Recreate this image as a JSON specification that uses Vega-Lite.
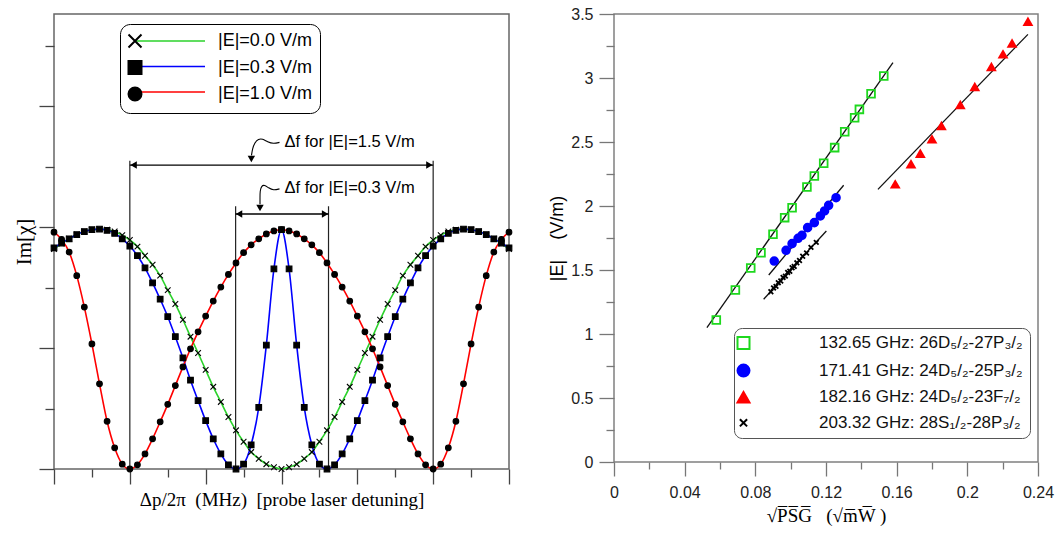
{
"$schema": "https://vega.github.io/schema/vega-lite/v6.json",
"background": "white",
"padding": {"left": 12, "top": 5, "right": 2, "bottom": 2},
"bounds": "flush",
"spacing": 105,
"resolve": {"scale": {"shape": "independent", "fill": "independent", "stroke": "independent"}, "legend": {"shape": "independent", "fill": "independent", "stroke": "independent"}},
"config": {
  "view": {"stroke": "#707070", "strokeWidth": 1.4},
  "font": "Liberation Sans",
  "axis": {"grid": false, "domain": false, "titleFontWeight": "normal", "titleColor": "#000", "labelColor": "#222", "tickColor": "#555", "tickWidth": 1.3}
},
"datasets": {
  "curves": [
    {"dp":-6,"im":3.64,"E":"|E|=0.0 V/m"},{"dp":-5.8,"im":3.73,"E":"|E|=0.0 V/m"},{"dp":-5.6,"im":3.81,"E":"|E|=0.0 V/m"},{"dp":-5.4,"im":3.88,"E":"|E|=0.0 V/m"},{"dp":-5.2,"im":3.93,"E":"|E|=0.0 V/m"},{"dp":-5,"im":3.96,"E":"|E|=0.0 V/m"},{"dp":-4.8,"im":3.97,"E":"|E|=0.0 V/m"},{"dp":-4.6,"im":3.96,"E":"|E|=0.0 V/m"},{"dp":-4.4,"im":3.93,"E":"|E|=0.0 V/m"},{"dp":-4.2,"im":3.87,"E":"|E|=0.0 V/m"},{"dp":-4,"im":3.79,"E":"|E|=0.0 V/m"},{"dp":-3.8,"im":3.68,"E":"|E|=0.0 V/m"},{"dp":-3.6,"im":3.53,"E":"|E|=0.0 V/m"},{"dp":-3.4,"im":3.38,"E":"|E|=0.0 V/m"},{"dp":-3.2,"im":3.2,"E":"|E|=0.0 V/m"},{"dp":-3,"im":2.96,"E":"|E|=0.0 V/m"},{"dp":-2.8,"im":2.73,"E":"|E|=0.0 V/m"},{"dp":-2.6,"im":2.47,"E":"|E|=0.0 V/m"},{"dp":-2.4,"im":2.19,"E":"|E|=0.0 V/m"},{"dp":-2.2,"im":1.92,"E":"|E|=0.0 V/m"},{"dp":-2,"im":1.64,"E":"|E|=0.0 V/m"},{"dp":-1.8,"im":1.36,"E":"|E|=0.0 V/m"},{"dp":-1.6,"im":1.11,"E":"|E|=0.0 V/m"},{"dp":-1.4,"im":0.86,"E":"|E|=0.0 V/m"},{"dp":-1.2,"im":0.64,"E":"|E|=0.0 V/m"},{"dp":-1,"im":0.45,"E":"|E|=0.0 V/m"},{"dp":-0.8,"im":0.28,"E":"|E|=0.0 V/m"},{"dp":-0.6,"im":0.17,"E":"|E|=0.0 V/m"},{"dp":-0.4,"im":0.08,"E":"|E|=0.0 V/m"},{"dp":-0.2,"im":0.03,"E":"|E|=0.0 V/m"},{"dp":0,"im":0,"E":"|E|=0.0 V/m"},{"dp":0.2,"im":0.03,"E":"|E|=0.0 V/m"},{"dp":0.4,"im":0.08,"E":"|E|=0.0 V/m"},{"dp":0.6,"im":0.17,"E":"|E|=0.0 V/m"},{"dp":0.8,"im":0.28,"E":"|E|=0.0 V/m"},{"dp":1,"im":0.45,"E":"|E|=0.0 V/m"},{"dp":1.2,"im":0.64,"E":"|E|=0.0 V/m"},{"dp":1.4,"im":0.86,"E":"|E|=0.0 V/m"},{"dp":1.6,"im":1.11,"E":"|E|=0.0 V/m"},{"dp":1.8,"im":1.36,"E":"|E|=0.0 V/m"},{"dp":2,"im":1.64,"E":"|E|=0.0 V/m"},{"dp":2.2,"im":1.92,"E":"|E|=0.0 V/m"},{"dp":2.4,"im":2.19,"E":"|E|=0.0 V/m"},{"dp":2.6,"im":2.47,"E":"|E|=0.0 V/m"},{"dp":2.8,"im":2.73,"E":"|E|=0.0 V/m"},{"dp":3,"im":2.96,"E":"|E|=0.0 V/m"},{"dp":3.2,"im":3.2,"E":"|E|=0.0 V/m"},{"dp":3.4,"im":3.38,"E":"|E|=0.0 V/m"},{"dp":3.6,"im":3.53,"E":"|E|=0.0 V/m"},{"dp":3.8,"im":3.68,"E":"|E|=0.0 V/m"},{"dp":4,"im":3.79,"E":"|E|=0.0 V/m"},{"dp":4.2,"im":3.87,"E":"|E|=0.0 V/m"},{"dp":4.4,"im":3.93,"E":"|E|=0.0 V/m"},{"dp":4.6,"im":3.96,"E":"|E|=0.0 V/m"},{"dp":4.8,"im":3.97,"E":"|E|=0.0 V/m"},{"dp":5,"im":3.96,"E":"|E|=0.0 V/m"},{"dp":5.2,"im":3.93,"E":"|E|=0.0 V/m"},{"dp":5.4,"im":3.88,"E":"|E|=0.0 V/m"},{"dp":5.6,"im":3.81,"E":"|E|=0.0 V/m"},{"dp":5.8,"im":3.73,"E":"|E|=0.0 V/m"},{"dp":6,"im":3.64,"E":"|E|=0.0 V/m"},
    {"dp":-6,"im":3.66,"E":"|E|=0.3 V/m"},{"dp":-5.8,"im":3.74,"E":"|E|=0.3 V/m"},{"dp":-5.6,"im":3.81,"E":"|E|=0.3 V/m"},{"dp":-5.4,"im":3.88,"E":"|E|=0.3 V/m"},{"dp":-5.2,"im":3.93,"E":"|E|=0.3 V/m"},{"dp":-5,"im":3.96,"E":"|E|=0.3 V/m"},{"dp":-4.8,"im":3.97,"E":"|E|=0.3 V/m"},{"dp":-4.6,"im":3.95,"E":"|E|=0.3 V/m"},{"dp":-4.4,"im":3.9,"E":"|E|=0.3 V/m"},{"dp":-4.2,"im":3.81,"E":"|E|=0.3 V/m"},{"dp":-4,"im":3.69,"E":"|E|=0.3 V/m"},{"dp":-3.8,"im":3.53,"E":"|E|=0.3 V/m"},{"dp":-3.6,"im":3.33,"E":"|E|=0.3 V/m"},{"dp":-3.4,"im":3.08,"E":"|E|=0.3 V/m"},{"dp":-3.2,"im":2.81,"E":"|E|=0.3 V/m"},{"dp":-3,"im":2.52,"E":"|E|=0.3 V/m"},{"dp":-2.8,"im":2.19,"E":"|E|=0.3 V/m"},{"dp":-2.6,"im":1.84,"E":"|E|=0.3 V/m"},{"dp":-2.4,"im":1.47,"E":"|E|=0.3 V/m"},{"dp":-2.2,"im":1.13,"E":"|E|=0.3 V/m"},{"dp":-2,"im":0.8,"E":"|E|=0.3 V/m"},{"dp":-1.8,"im":0.5,"E":"|E|=0.3 V/m"},{"dp":-1.6,"im":0.25,"E":"|E|=0.3 V/m"},{"dp":-1.4,"im":0.07,"E":"|E|=0.3 V/m"},{"dp":-1.2,"im":0,"E":"|E|=0.3 V/m"},{"dp":-1,"im":0.08,"E":"|E|=0.3 V/m"},{"dp":-0.8,"im":0.4,"E":"|E|=0.3 V/m"},{"dp":-0.6,"im":1.02,"E":"|E|=0.3 V/m"},{"dp":-0.4,"im":2.05,"E":"|E|=0.3 V/m"},{"dp":-0.2,"im":3.31,"E":"|E|=0.3 V/m"},{"dp":0,"im":3.96,"E":"|E|=0.3 V/m"},{"dp":0.2,"im":3.31,"E":"|E|=0.3 V/m"},{"dp":0.4,"im":2.05,"E":"|E|=0.3 V/m"},{"dp":0.6,"im":1.02,"E":"|E|=0.3 V/m"},{"dp":0.8,"im":0.4,"E":"|E|=0.3 V/m"},{"dp":1,"im":0.08,"E":"|E|=0.3 V/m"},{"dp":1.2,"im":0,"E":"|E|=0.3 V/m"},{"dp":1.4,"im":0.07,"E":"|E|=0.3 V/m"},{"dp":1.6,"im":0.25,"E":"|E|=0.3 V/m"},{"dp":1.8,"im":0.5,"E":"|E|=0.3 V/m"},{"dp":2,"im":0.8,"E":"|E|=0.3 V/m"},{"dp":2.2,"im":1.13,"E":"|E|=0.3 V/m"},{"dp":2.4,"im":1.47,"E":"|E|=0.3 V/m"},{"dp":2.6,"im":1.84,"E":"|E|=0.3 V/m"},{"dp":2.8,"im":2.19,"E":"|E|=0.3 V/m"},{"dp":3,"im":2.52,"E":"|E|=0.3 V/m"},{"dp":3.2,"im":2.81,"E":"|E|=0.3 V/m"},{"dp":3.4,"im":3.08,"E":"|E|=0.3 V/m"},{"dp":3.6,"im":3.33,"E":"|E|=0.3 V/m"},{"dp":3.8,"im":3.53,"E":"|E|=0.3 V/m"},{"dp":4,"im":3.69,"E":"|E|=0.3 V/m"},{"dp":4.2,"im":3.81,"E":"|E|=0.3 V/m"},{"dp":4.4,"im":3.9,"E":"|E|=0.3 V/m"},{"dp":4.6,"im":3.95,"E":"|E|=0.3 V/m"},{"dp":4.8,"im":3.97,"E":"|E|=0.3 V/m"},{"dp":5,"im":3.96,"E":"|E|=0.3 V/m"},{"dp":5.2,"im":3.93,"E":"|E|=0.3 V/m"},{"dp":5.4,"im":3.88,"E":"|E|=0.3 V/m"},{"dp":5.6,"im":3.81,"E":"|E|=0.3 V/m"},{"dp":5.8,"im":3.74,"E":"|E|=0.3 V/m"},{"dp":6,"im":3.66,"E":"|E|=0.3 V/m"},
    {"dp":-6,"im":3.92,"E":"|E|=1.0 V/m"},{"dp":-5.8,"im":3.8,"E":"|E|=1.0 V/m"},{"dp":-5.6,"im":3.59,"E":"|E|=1.0 V/m"},{"dp":-5.4,"im":3.2,"E":"|E|=1.0 V/m"},{"dp":-5.2,"im":2.68,"E":"|E|=1.0 V/m"},{"dp":-5,"im":2.07,"E":"|E|=1.0 V/m"},{"dp":-4.8,"im":1.41,"E":"|E|=1.0 V/m"},{"dp":-4.6,"im":0.79,"E":"|E|=1.0 V/m"},{"dp":-4.4,"im":0.35,"E":"|E|=1.0 V/m"},{"dp":-4.2,"im":0.08,"E":"|E|=1.0 V/m"},{"dp":-4,"im":0,"E":"|E|=1.0 V/m"},{"dp":-3.8,"im":0.07,"E":"|E|=1.0 V/m"},{"dp":-3.6,"im":0.25,"E":"|E|=1.0 V/m"},{"dp":-3.4,"im":0.5,"E":"|E|=1.0 V/m"},{"dp":-3.2,"im":0.78,"E":"|E|=1.0 V/m"},{"dp":-3,"im":1.07,"E":"|E|=1.0 V/m"},{"dp":-2.8,"im":1.38,"E":"|E|=1.0 V/m"},{"dp":-2.6,"im":1.69,"E":"|E|=1.0 V/m"},{"dp":-2.4,"im":1.99,"E":"|E|=1.0 V/m"},{"dp":-2.2,"im":2.27,"E":"|E|=1.0 V/m"},{"dp":-2,"im":2.53,"E":"|E|=1.0 V/m"},{"dp":-1.8,"im":2.78,"E":"|E|=1.0 V/m"},{"dp":-1.6,"im":3.01,"E":"|E|=1.0 V/m"},{"dp":-1.4,"im":3.22,"E":"|E|=1.0 V/m"},{"dp":-1.2,"im":3.41,"E":"|E|=1.0 V/m"},{"dp":-1,"im":3.58,"E":"|E|=1.0 V/m"},{"dp":-0.8,"im":3.71,"E":"|E|=1.0 V/m"},{"dp":-0.6,"im":3.81,"E":"|E|=1.0 V/m"},{"dp":-0.4,"im":3.89,"E":"|E|=1.0 V/m"},{"dp":-0.2,"im":3.94,"E":"|E|=1.0 V/m"},{"dp":0,"im":3.96,"E":"|E|=1.0 V/m"},{"dp":0.2,"im":3.94,"E":"|E|=1.0 V/m"},{"dp":0.4,"im":3.89,"E":"|E|=1.0 V/m"},{"dp":0.6,"im":3.81,"E":"|E|=1.0 V/m"},{"dp":0.8,"im":3.71,"E":"|E|=1.0 V/m"},{"dp":1,"im":3.58,"E":"|E|=1.0 V/m"},{"dp":1.2,"im":3.41,"E":"|E|=1.0 V/m"},{"dp":1.4,"im":3.22,"E":"|E|=1.0 V/m"},{"dp":1.6,"im":3.01,"E":"|E|=1.0 V/m"},{"dp":1.8,"im":2.78,"E":"|E|=1.0 V/m"},{"dp":2,"im":2.53,"E":"|E|=1.0 V/m"},{"dp":2.2,"im":2.27,"E":"|E|=1.0 V/m"},{"dp":2.4,"im":1.99,"E":"|E|=1.0 V/m"},{"dp":2.6,"im":1.69,"E":"|E|=1.0 V/m"},{"dp":2.8,"im":1.38,"E":"|E|=1.0 V/m"},{"dp":3,"im":1.07,"E":"|E|=1.0 V/m"},{"dp":3.2,"im":0.78,"E":"|E|=1.0 V/m"},{"dp":3.4,"im":0.5,"E":"|E|=1.0 V/m"},{"dp":3.6,"im":0.25,"E":"|E|=1.0 V/m"},{"dp":3.8,"im":0.07,"E":"|E|=1.0 V/m"},{"dp":4,"im":0,"E":"|E|=1.0 V/m"},{"dp":4.2,"im":0.08,"E":"|E|=1.0 V/m"},{"dp":4.4,"im":0.35,"E":"|E|=1.0 V/m"},{"dp":4.6,"im":0.79,"E":"|E|=1.0 V/m"},{"dp":4.8,"im":1.41,"E":"|E|=1.0 V/m"},{"dp":5,"im":2.07,"E":"|E|=1.0 V/m"},{"dp":5.2,"im":2.68,"E":"|E|=1.0 V/m"},{"dp":5.4,"im":3.2,"E":"|E|=1.0 V/m"},{"dp":5.6,"im":3.59,"E":"|E|=1.0 V/m"},{"dp":5.8,"im":3.8,"E":"|E|=1.0 V/m"},{"dp":6,"im":3.92,"E":"|E|=1.0 V/m"}
  ],
  "vlines": [{"dp":-4,"im":0,"im2":5.1},{"dp":4,"im":0,"im2":5.1},{"dp":-1.21,"im":0,"im2":4.35},{"dp":1.24,"im":0,"im2":4.35}],
  "harrows": [{"dp":-4,"dp2":4,"im":5.03},{"dp":-1.21,"dp2":1.24,"im":4.22}],
  "heads": [{"dp":-3.9,"im":5.03,"dir":"left"},{"dp":-1.12,"im":4.22,"dir":"left"},{"dp":3.9,"im":5.03,"dir":"right"},{"dp":1.15,"im":4.22,"dir":"right"},{"dp":-0.795,"im":5.13,"dir":"down"},{"dp":-0.567,"im":4.32,"dir":"down"}],
  "wiggles": [
    {"dp":-0.053,"im":5.406,"k":0,"g":"a"},{"dp":-0.211,"im":5.381,"k":1,"g":"a"},{"dp":-0.369,"im":5.414,"k":2,"g":"a"},{"dp":-0.501,"im":5.464,"k":3,"g":"a"},{"dp":-0.607,"im":5.464,"k":4,"g":"a"},{"dp":-0.712,"im":5.397,"k":5,"g":"a"},{"dp":-0.765,"im":5.298,"k":6,"g":"a"},{"dp":-0.792,"im":5.19,"k":7,"g":"a"},
    {"dp":-0.053,"im":4.636,"k":0,"g":"b"},{"dp":-0.211,"im":4.611,"k":1,"g":"b"},{"dp":-0.343,"im":4.652,"k":2,"g":"b"},{"dp":-0.449,"im":4.702,"k":3,"g":"b"},{"dp":-0.528,"im":4.685,"k":4,"g":"b"},{"dp":-0.567,"im":4.603,"k":5,"g":"b"},{"dp":-0.567,"im":4.487,"k":6,"g":"b"},{"dp":-0.567,"im":4.38,"k":7,"g":"b"}
  ],
  "notes": [{"dp":0.08,"im":5.41,"txt":"Δf for |E|=1.5 V/m"},{"dp":0.08,"im":4.65,"txt":"Δf for |E|=0.3 V/m"}],
  "efield": [
    {"sp":0.0579,"ef":1.109,"t":"132.65 GHz: 26D₅/₂-27P₃/₂"},{"sp":0.0687,"ef":1.344,"t":"132.65 GHz: 26D₅/₂-27P₃/₂"},{"sp":0.0774,"ef":1.515,"t":"132.65 GHz: 26D₅/₂-27P₃/₂"},{"sp":0.0832,"ef":1.635,"t":"132.65 GHz: 26D₅/₂-27P₃/₂"},{"sp":0.09,"ef":1.779,"t":"132.65 GHz: 26D₅/₂-27P₃/₂"},{"sp":0.0966,"ef":1.909,"t":"132.65 GHz: 26D₅/₂-27P₃/₂"},{"sp":0.1008,"ef":1.987,"t":"132.65 GHz: 26D₅/₂-27P₃/₂"},{"sp":0.1092,"ef":2.148,"t":"132.65 GHz: 26D₅/₂-27P₃/₂"},{"sp":0.1134,"ef":2.234,"t":"132.65 GHz: 26D₅/₂-27P₃/₂"},{"sp":0.1187,"ef":2.334,"t":"132.65 GHz: 26D₅/₂-27P₃/₂"},{"sp":0.1249,"ef":2.456,"t":"132.65 GHz: 26D₅/₂-27P₃/₂"},{"sp":0.1306,"ef":2.58,"t":"132.65 GHz: 26D₅/₂-27P₃/₂"},{"sp":0.1362,"ef":2.69,"t":"132.65 GHz: 26D₅/₂-27P₃/₂"},{"sp":0.1389,"ef":2.755,"t":"132.65 GHz: 26D₅/₂-27P₃/₂"},{"sp":0.1455,"ef":2.877,"t":"132.65 GHz: 26D₅/₂-27P₃/₂"},{"sp":0.1527,"ef":3.016,"t":"132.65 GHz: 26D₅/₂-27P₃/₂"},
    {"sp":0.0907,"ef":1.57,"t":"171.41 GHz: 24D₅/₂-25P₃/₂"},{"sp":0.0974,"ef":1.654,"t":"171.41 GHz: 24D₅/₂-25P₃/₂"},{"sp":0.1008,"ef":1.706,"t":"171.41 GHz: 24D₅/₂-25P₃/₂"},{"sp":0.1042,"ef":1.748,"t":"171.41 GHz: 24D₅/₂-25P₃/₂"},{"sp":0.1064,"ef":1.771,"t":"171.41 GHz: 24D₅/₂-25P₃/₂"},{"sp":0.1096,"ef":1.831,"t":"171.41 GHz: 24D₅/₂-25P₃/₂"},{"sp":0.1134,"ef":1.87,"t":"171.41 GHz: 24D₅/₂-25P₃/₂"},{"sp":0.1168,"ef":1.922,"t":"171.41 GHz: 24D₅/₂-25P₃/₂"},{"sp":0.1192,"ef":1.961,"t":"171.41 GHz: 24D₅/₂-25P₃/₂"},{"sp":0.1215,"ef":2.005,"t":"171.41 GHz: 24D₅/₂-25P₃/₂"},{"sp":0.1257,"ef":2.065,"t":"171.41 GHz: 24D₅/₂-25P₃/₂"},
    {"sp":0.1592,"ef":2.169,"t":"182.16 GHz: 24D₅/₂-23F₇/₂"},{"sp":0.1681,"ef":2.326,"t":"182.16 GHz: 24D₅/₂-23F₇/₂"},{"sp":0.1734,"ef":2.409,"t":"182.16 GHz: 24D₅/₂-23F₇/₂"},{"sp":0.18,"ef":2.521,"t":"182.16 GHz: 24D₅/₂-23F₇/₂"},{"sp":0.1853,"ef":2.625,"t":"182.16 GHz: 24D₅/₂-23F₇/₂"},{"sp":0.196,"ef":2.789,"t":"182.16 GHz: 24D₅/₂-23F₇/₂"},{"sp":0.2042,"ef":2.93,"t":"182.16 GHz: 24D₅/₂-23F₇/₂"},{"sp":0.2136,"ef":3.086,"t":"182.16 GHz: 24D₅/₂-23F₇/₂"},{"sp":0.2202,"ef":3.185,"t":"182.16 GHz: 24D₅/₂-23F₇/₂"},{"sp":0.2253,"ef":3.27,"t":"182.16 GHz: 24D₅/₂-23F₇/₂"},{"sp":0.2343,"ef":3.44,"t":"182.16 GHz: 24D₅/₂-23F₇/₂"},
    {"sp":0.0888,"ef":1.33,"t":"203.32 GHz: 28S₁/₂-28P₃/₂"},{"sp":0.0903,"ef":1.36,"t":"203.32 GHz: 28S₁/₂-28P₃/₂"},{"sp":0.0917,"ef":1.372,"t":"203.32 GHz: 28S₁/₂-28P₃/₂"},{"sp":0.093,"ef":1.401,"t":"203.32 GHz: 28S₁/₂-28P₃/₂"},{"sp":0.0944,"ef":1.414,"t":"203.32 GHz: 28S₁/₂-28P₃/₂"},{"sp":0.0957,"ef":1.442,"t":"203.32 GHz: 28S₁/₂-28P₃/₂"},{"sp":0.097,"ef":1.452,"t":"203.32 GHz: 28S₁/₂-28P₃/₂"},{"sp":0.0983,"ef":1.481,"t":"203.32 GHz: 28S₁/₂-28P₃/₂"},{"sp":0.0995,"ef":1.49,"t":"203.32 GHz: 28S₁/₂-28P₃/₂"},{"sp":0.1008,"ef":1.518,"t":"203.32 GHz: 28S₁/₂-28P₃/₂"},{"sp":0.102,"ef":1.528,"t":"203.32 GHz: 28S₁/₂-28P₃/₂"},{"sp":0.1035,"ef":1.556,"t":"203.32 GHz: 28S₁/₂-28P₃/₂"},{"sp":0.105,"ef":1.574,"t":"203.32 GHz: 28S₁/₂-28P₃/₂"},{"sp":0.1068,"ef":1.607,"t":"203.32 GHz: 28S₁/₂-28P₃/₂"},{"sp":0.109,"ef":1.633,"t":"203.32 GHz: 28S₁/₂-28P₃/₂"},{"sp":0.1115,"ef":1.677,"t":"203.32 GHz: 28S₁/₂-28P₃/₂"},{"sp":0.1145,"ef":1.716,"t":"203.32 GHz: 28S₁/₂-28P₃/₂"}
  ],
  "fits": [
    {"sp":0.0526,"ef":1.049,"t":"a"},{"sp":0.1579,"ef":3.12,"t":"a"},
    {"sp":0.0876,"ef":1.461,"t":"b"},{"sp":0.13,"ef":2.162,"t":"b"},
    {"sp":0.1494,"ef":2.13,"t":"c"},{"sp":0.2343,"ef":3.341,"t":"c"},
    {"sp":0.0847,"ef":1.271,"t":"d"},{"sp":0.1202,"ef":1.805,"t":"d"}
  ]
},
"hconcat": [
  {
    "width": 455,
    "height": 455,
    "view": {"stroke": "#666", "strokeWidth": 1.5},
    "encoding": {
      "x": {"field": "dp", "type": "quantitative", "scale": {"domain": [-6, 6], "nice": false, "zero": false},
        "axis": {"values": [-6,-5,-4,-3,-2,-1,0,1,2,3,4,5,6], "labels": false, "tickColor": "#444",
          "tickSize": {"condition": {"test": "datum.value % 2 === 0", "value": 15}, "value": 8},
          "title": "Δp/2π \u00a0(MHz) \u00a0[probe laser detuning]", "titleFont": "Liberation Serif", "titleFontSize": 19, "titlePadding": 6}},
      "y": {"field": "im", "type": "quantitative", "scale": {"domain": [0, 7.53], "nice": false},
        "axis": {"values": [0,1,2,3,4,5,6,7], "labels": false, "tickColor": "#444",
          "tickSize": {"condition": {"test": "datum.value % 2 === 0", "value": 15}, "value": 9},
          "title": "Im[χ]", "titleFont": "Liberation Serif", "titleFontSize": 21, "titlePadding": 4}}
    },
    "layer": [
      {"data": {"name": "vlines"}, "mark": {"type": "rule", "color": "#222", "strokeWidth": 1.2}, "encoding": {"y2": {"field": "im2"}}},
      {"data": {"name": "harrows"}, "mark": {"type": "rule", "color": "#000", "strokeWidth": 1.3}, "encoding": {"x2": {"field": "dp2"}}},
      {"data": {"name": "wiggles"}, "mark": {"type": "line", "interpolate": "basis", "color": "#000", "strokeWidth": 1.1}, "encoding": {"detail": {"field": "g"}, "order": {"field": "k", "type": "quantitative"}}},
      {"data": {"name": "heads"}, "transform": [{"filter": "datum.dir === 'left'"}], "mark": {"type": "point", "shape": "triangle-left", "filled": true, "color": "#000", "size": 55, "opacity": 1}},
      {"data": {"name": "heads"}, "transform": [{"filter": "datum.dir === 'right'"}], "mark": {"type": "point", "shape": "triangle-right", "filled": true, "color": "#000", "size": 55, "opacity": 1}},
      {"data": {"name": "heads"}, "transform": [{"filter": "datum.dir === 'down'"}], "mark": {"type": "point", "shape": "triangle-down", "filled": true, "color": "#000", "size": 55, "opacity": 1}},
      {"data": {"name": "notes"}, "mark": {"type": "text", "align": "left", "baseline": "middle", "font": "Liberation Sans", "fontSize": 16.5, "color": "#000"}, "encoding": {"text": {"field": "txt"}}},
      {"data": {"name": "curves"}, "mark": {"type": "line", "interpolate": "monotone", "strokeWidth": 1.6},
        "encoding": {"stroke": {"field": "E", "type": "nominal",
          "scale": {"domain": ["|E|=0.0 V/m", "|E|=0.3 V/m", "|E|=1.0 V/m"], "range": ["#2bd22b", "#0000ff", "#ff0000"]},
          "legend": {"orient": "none", "legendX": 66, "legendY": 10, "title": null, "padding": 8, "rowPadding": 7.5, "symbolSize": 169,
            "symbolType": "M0,0H10.77", "symbolOffset": -2, "symbolStrokeWidth": 1.5, "labelOffset": 74, "labelFont": "Liberation Sans", "labelFontSize": 18,
            "labelExpr": "''", "labelLimit": 400}}}},
      {"data": {"name": "curves"}, "mark": {"type": "point", "filled": true, "color": "#000", "stroke": "#000", "strokeWidth": 1.1, "size": 32, "opacity": 1},
        "encoding": {"shape": {"field": "E", "type": "nominal",
          "scale": {"range": ["M-1,-1L1,1M-1,1L1,-1", "square", "circle"]},
          "legend": {"orient": "none", "legendX": 66, "legendY": 10, "title": null, "padding": 8, "rowPadding": 4.5, "symbolSize": 169,
            "symbolOffset": -2, "symbolStrokeWidth": 2, "labelOffset": 74, "labelFont": "Liberation Sans", "labelFontSize": 18,
            "labelColor": "#000", "labelLimit": 400, "strokeColor": "#000", "cornerRadius": 10}}}}
    ]
  },
  {
    "width": 424,
    "height": 448,
    "view": {"stroke": "#808080", "strokeWidth": 1.5},
    "encoding": {
      "x": {"field": "sp", "type": "quantitative", "scale": {"domain": [0, 0.24], "nice": false},
        "axis": {"values": [0,0.02,0.04,0.06,0.08,0.1,0.12,0.14,0.16,0.18,0.2,0.22,0.24], "format": ".2~f",
          "labelExpr": "round(datum.value*100) % 4 === 0 ? datum.label : ''", "labelFlush": false, "labelOverlap": false,
          "labelFontSize": 16, "labelPadding": 8, "tickColor": "#777",
          "tickSize": {"condition": {"test": "round(datum.value*100) % 4 === 0", "value": 14}, "value": 7},
          "title": "√P\u0305S\u0305G\u0305 \u00a0 (√m\u0305W\u0305 )", "titleFont": "Liberation Serif", "titleFontSize": 19, "titlePadding": 6}},
      "y": {"field": "ef", "type": "quantitative", "scale": {"domain": [0, 3.5], "nice": false},
        "axis": {"values": [0,0.25,0.5,0.75,1,1.25,1.5,1.75,2,2.25,2.5,2.75,3,3.25,3.5], "format": ".1~f",
          "labelExpr": "round(datum.value*4) % 2 === 0 ? datum.label : ''", "labelFlush": false, "labelOverlap": false,
          "labelFontSize": 16, "labelPadding": 6, "tickColor": "#777",
          "tickSize": {"condition": {"test": "round(datum.value*4) % 2 === 0", "value": 15}, "value": 8},
          "title": "|E| \u00a0\u00a0 (V/m)", "titleFont": "Liberation Sans", "titleFontSize": 18, "titlePadding": 4}}
    },
    "layer": [
      {"data": {"name": "fits"}, "mark": {"type": "line", "color": "#111", "strokeWidth": 1.3}, "encoding": {"detail": {"field": "t"}}},
      {"data": {"name": "efield"}, "mark": {"type": "point", "strokeWidth": 1.8, "size": 60, "opacity": 1},
        "encoding": {
          "fill": {"field": "t", "type": "nominal", "scale": {"range": ["transparent", "#0000ff", "#ff0000", "transparent"]}},
          "stroke": {"field": "t", "type": "nominal", "scale": {"range": ["#1ed81e", "#0000ff", "#ff0000", "#000000"]}},
          "shape": {"field": "t", "type": "nominal", "scale": {"range": ["square", "circle", "triangle-up", "M-0.6,-0.6L0.6,0.6M-0.6,0.6L0.6,-0.6"]},
            "legend": {"orient": "none", "legendX": 120, "legendY": 314, "title": null, "padding": 6.5, "rowPadding": 6.6, "symbolSize": 144,
              "symbolOffset": -5.5, "symbolStrokeWidth": 2, "labelOffset": 67, "labelFont": "Liberation Sans", "labelFontSize": 17,
              "labelColor": "#111", "labelLimit": 400, "strokeColor": "#555", "cornerRadius": 8, "fillColor": "white"}}
        }}
    ]
  }
]
}
